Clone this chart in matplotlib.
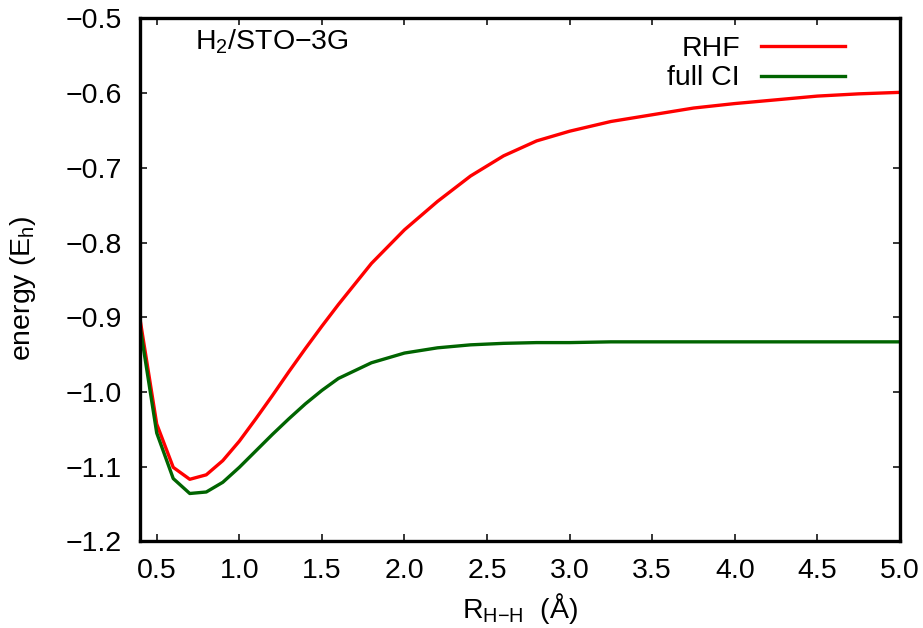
import numpy as np
import matplotlib
matplotlib.use("Agg")
import matplotlib.pyplot as plt

plt.rcParams['font.family'] = ['Liberation Sans', 'DejaVu Sans']
plt.rcParams['mathtext.fontset'] = 'custom'
plt.rcParams['mathtext.rm'] = 'Liberation Sans'
plt.rcParams['mathtext.it'] = 'Liberation Sans'
plt.rcParams['mathtext.default'] = 'regular'

# bond length (Angstrom) and energies (hartree)
r_hh = [0.4, 0.5, 0.6, 0.7, 0.8, 0.9, 1.0, 1.1, 1.2, 1.3, 1.4, 1.5, 1.6,
        1.8, 2.0, 2.2, 2.4, 2.6, 2.8, 3.0, 3.25, 3.5, 3.75, 4.0, 4.25,
        4.5, 4.75, 5.0]
e_rhf = [-0.904, -1.043, -1.101, -1.117, -1.111, -1.092, -1.066, -1.036,
         -1.005, -0.973, -0.942, -0.912, -0.883, -0.828, -0.783, -0.745,
         -0.711, -0.684, -0.664, -0.651, -0.638, -0.629, -0.620, -0.614,
         -0.609, -0.604, -0.601, -0.599]
e_fci = [-0.914, -1.055, -1.116, -1.136, -1.134, -1.121, -1.101, -1.079,
         -1.057, -1.036, -1.016, -0.998, -0.982, -0.961, -0.948, -0.941,
         -0.937, -0.935, -0.934, -0.934, -0.933, -0.933, -0.933, -0.933,
         -0.933, -0.933, -0.933, -0.933]

xticks = [0.5, 1.0, 1.5, 2.0, 2.5, 3.0, 3.5, 4.0, 4.5, 5.0]
yticks = [-1.2, -1.1, -1.0, -0.9, -0.8, -0.7, -0.6, -0.5]

fs = 20.5
W, H = 923, 628
fig = plt.figure(figsize=(W/100, H/100), dpi=100)
ax = fig.add_axes([140.2/W, 1-541.3/H, (900-140.2)/W, (541.3-18.4)/H])

ax.plot(r_hh, e_rhf, color='#ff0000', lw=2.4, label='RHF')
ax.plot(r_hh, e_fci, color='#006400', lw=2.4, label='full CI')

ax.set_xlim(0.4, 5.0)
ax.set_ylim(-1.2, -0.5)
ax.set_xticks(xticks)
ax.set_yticks(yticks)
ax.set_xticklabels(['%.1f' % t for t in xticks])
ax.set_yticklabels([('%.1f' % t).replace('-', '\u2212') for t in yticks])

for s in ax.spines.values():
    s.set_linewidth(2.4)
ax.tick_params(direction='in', length=5, width=1.1, labelsize=fs,
               top=True, right=True)
ax.tick_params(axis='y', pad=13)
ax.tick_params(axis='x', pad=12)

ax.set_ylabel(r'energy (E$_\mathrm{h}$)', fontsize=fs)
ax.yaxis.set_label_coords(-0.1345, 0.484)
ax.set_xlabel('R$_{\\text{H\u2212H}}$  (Å)', fontsize=fs, va='top')
ax.xaxis.set_label_coords(0.5, -0.095)

ax.text(0.072, 0.9396, 'H$_2$/STO\u22123G', transform=ax.transAxes,
        fontsize=fs, va='baseline', ha='left')

ax.legend(loc='upper right', bbox_to_anchor=(845/W, 1-35.5/H),
          bbox_transform=fig.transFigure, frameon=False, markerfirst=False,
          fontsize=fs, handlelength=2.95, handletextpad=0.74,
          labelspacing=0.14, borderpad=0, borderaxespad=0)

fig.savefig('out.png', dpi=100)
